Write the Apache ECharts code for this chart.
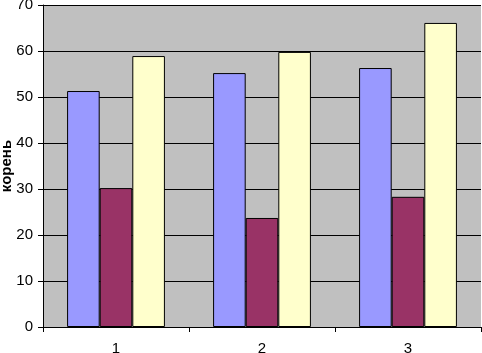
<!DOCTYPE html>
<html><head><meta charset="utf-8">
<script src="https://cdn.jsdelivr.net/npm/echarts@6/dist/echarts.min.js"></script>
<style>html,body{margin:0;padding:0;background:#fff}#c{width:482px;height:353px}</style>
</head><body><div id="c"></div>
<script>
const categories = ['1', '2', '3'];
const series1 = [51.3, 55.2, 56.3];
const series2 = [30.2, 23.7, 28.3];
const series3 = [58.9, 59.8, 66.1];
const yTicks = { min: 0, max: 70, interval: 10 };
const yName = 'корень';

const chart = echarts.init(document.getElementById('c'));
const mk = (data, color) => ({
  type: 'bar', data, barGap: '0%', barCategoryGap: '33%',
  itemStyle: { color, borderColor: '#000', borderWidth: 1 }
});
const font = 'Arial';
chart.setOption({
  animation: false,
  grid: { left: 43, right: 1, top: 5, bottom: 26, outerBoundsMode: 'none', containLabel: false,
          backgroundColor: '#c0c0c0', show: true, borderWidth: 0 },
  xAxis: {
    type: 'category', data: categories,
    axisLine: { lineStyle: { color: '#000' } },
    axisTick: { show: true, length: 5, lineStyle: { color: '#000' } },
    axisLabel: { color: '#000', fontFamily: font, fontSize: 15, margin: 14 }
  },
  yAxis: {
    type: 'value', min: yTicks.min, max: yTicks.max, interval: yTicks.interval,
    name: yName, nameLocation: 'middle', nameGap: 29, nameRotate: 90, nameMoveOverlap: false,
    nameTextStyle: { color: '#000', fontFamily: font, fontSize: 15, fontWeight: 'bold' },
    axisLine: { show: true, lineStyle: { color: '#000' } },
    axisTick: { show: true, length: 5, lineStyle: { color: '#000' } },
    axisLabel: { color: '#000', fontFamily: font, fontSize: 15, margin: 10 },
    splitLine: { show: true, lineStyle: { color: '#000', width: 1 } }
  },
  series: [mk(series1, '#9999ff'), mk(series2, '#993366'), mk(series3, '#ffffcc')]
});
</script></body></html>
